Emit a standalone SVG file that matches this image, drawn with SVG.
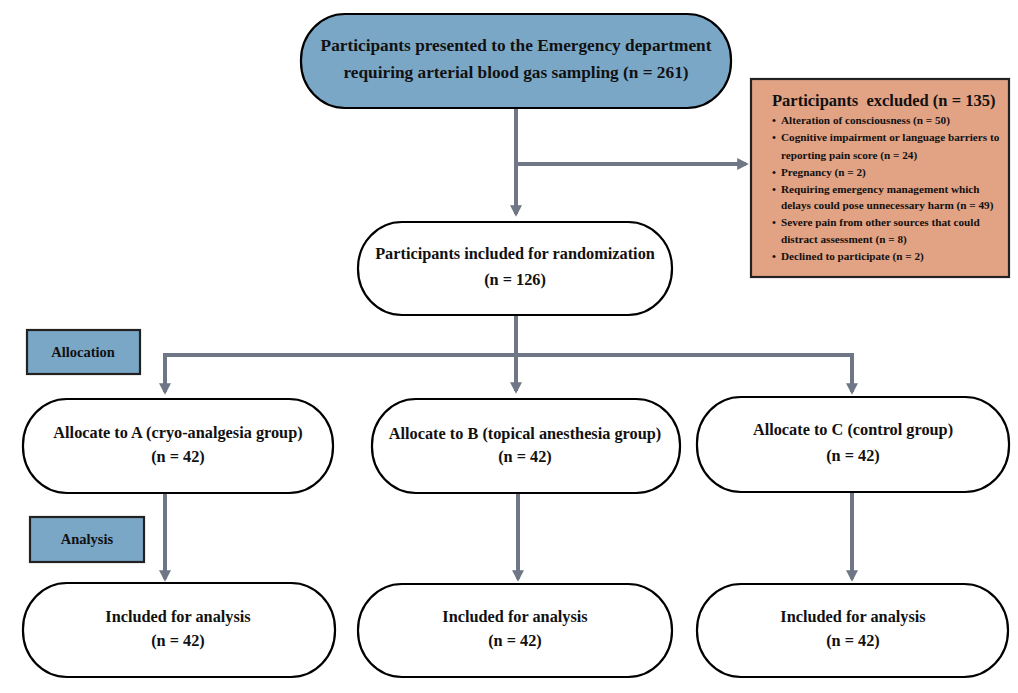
<svg xmlns="http://www.w3.org/2000/svg" width="1018" height="693" viewBox="0 0 1018 693">
<style>
.node{fill:#fff;stroke:#000;stroke-width:2.2}
.blue{fill:#7BA7C7}
.t{font-family:"Liberation Serif","Times New Roman",serif;font-weight:bold;fill:#111;text-anchor:middle;font-size:16.3px}
.tb{font-size:17.3px}
.lab{font-family:"Liberation Serif","Times New Roman",serif;font-weight:bold;fill:#111;text-anchor:middle;font-size:14.5px}
.ex{font-family:"Liberation Serif","Times New Roman",serif;font-weight:bold;fill:#111;font-size:11.2px}
.conn{fill:none;stroke:#6F7686;stroke-width:4}
</style>
<defs>
<marker id="ah" markerWidth="4" markerHeight="4" refX="2.2" refY="2" orient="auto" markerUnits="strokeWidth" viewBox="0 0 4 4">
<path d="M0,0.5 L2.9,2 L0,3.5 Z" fill="#6F7686"/>
</marker>
</defs>
<rect width="1018" height="693" fill="#fff"/>
<g id="connectors">
<path class="conn" d="M516,108 V214" marker-end="url(#ah)"/>
<path class="conn" d="M516,164 H746" marker-end="url(#ah)"/>
<path class="conn" d="M516,315 V391" marker-end="url(#ah)"/>
<path class="conn" d="M165,392 V355 H852 V392" marker-end="url(#ah)"/>
<path class="conn" d="M165,358 V392" marker-end="url(#ah)"/>
<path class="conn" d="M165,493 V579" marker-end="url(#ah)"/>
<path class="conn" d="M518,493 V579" marker-end="url(#ah)"/>
<path class="conn" d="M852,492 V579" marker-end="url(#ah)"/>
</g>
<g id="n-presented">
<rect class="node blue" x="301" y="14" width="430" height="94" rx="44" ry="46"/>
<text class="t tb" x="516" y="51">Participants presented to the Emergency department</text>
<text class="t tb" x="516" y="78">requiring arterial blood gas sampling (n = 261)</text>
</g>
<g id="n-excluded">
<rect x="751" y="79" width="258" height="198" fill="#E2A284" stroke="#222" stroke-width="2.2"/>
<text class="ex" x="772" y="106" style="font-size:16.5px;white-space:pre" xml:space="preserve">Participants  excluded (n = 135)</text>
<g class="ex">
<text x="772" y="124">•</text><text x="781" y="124">Alteration of consciousness (n = 50)</text>
<text x="772" y="141">•</text><text x="781" y="141">Cognitive impairment or language barriers to</text>
<text x="781" y="159">reporting pain score (n = 24)</text>
<text x="772" y="176">•</text><text x="781" y="176">Pregnancy (n = 2)</text>
<text x="772" y="193">•</text><text x="781" y="193">Requiring emergency management which</text>
<text x="781" y="209">delays could pose unnecessary harm (n = 49)</text>
<text x="772" y="226">•</text><text x="781" y="226">Severe pain from other sources that could</text>
<text x="781" y="243">distract assessment (n = 8)</text>
<text x="772" y="260">•</text><text x="781" y="260">Declined to participate (n = 2)</text>
</g>
</g>
<g id="n-randomization">
<rect class="node" x="358" y="222" width="314" height="93" rx="44" ry="46"/>
<text class="t" x="515" y="259">Participants included for randomization</text>
<text class="t" x="515" y="285">(n = 126)</text>
</g>
<g id="lbl-allocation">
<rect x="27" y="330" width="113" height="44" fill="#7BA7C7" stroke="#222" stroke-width="2.2"/>
<text class="lab" x="83" y="357">Allocation</text>
</g>
<g id="n-alloc-a">
<rect class="node" x="23" y="399" width="310" height="94" rx="44" ry="46"/>
<text class="t" x="178" y="438">Allocate to A (cryo-analgesia group)</text>
<text class="t" x="178" y="462">(n = 42)</text>
</g>
<g id="n-alloc-b">
<rect class="node" x="372" y="399" width="308" height="94" rx="44" ry="46"/>
<text class="t" x="525" y="439">Allocate to B (topical anesthesia group)</text>
<text class="t" x="525" y="462">(n = 42)</text>
</g>
<g id="n-alloc-c">
<rect class="node" x="697" y="397" width="312" height="95" rx="44" ry="46"/>
<text class="t" x="853" y="435">Allocate to C (control group)</text>
<text class="t" x="853" y="461">(n = 42)</text>
</g>
<g id="lbl-analysis">
<rect x="30" y="517" width="114" height="45" fill="#7BA7C7" stroke="#222" stroke-width="2.2"/>
<text class="lab" x="87" y="544">Analysis</text>
</g>
<g id="n-analysis-a">
<rect class="node" x="23" y="583" width="312" height="94" rx="44" ry="46"/>
<text class="t" x="178" y="622">Included for analysis</text>
<text class="t" x="178" y="646">(n = 42)</text>
</g>
<g id="n-analysis-b">
<rect class="node" x="358" y="584" width="314" height="93" rx="44" ry="46"/>
<text class="t" x="515" y="622">Included for analysis</text>
<text class="t" x="515" y="646">(n = 42)</text>
</g>
<g id="n-analysis-c">
<rect class="node" x="697" y="584" width="311" height="93" rx="44" ry="46"/>
<text class="t" x="853" y="622">Included for analysis</text>
<text class="t" x="853" y="646">(n = 42)</text>
</g>
</svg>
